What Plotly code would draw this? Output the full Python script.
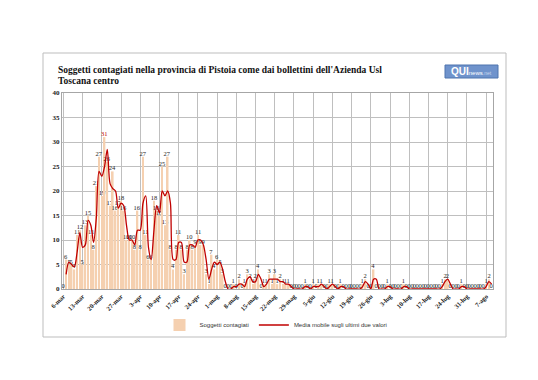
import pandas as pd
import plotly.graph_objects as go

start_date = "2020-03-06"

contagiati = [
    0, 6, 5, 5, 4, 11, 12, 5, 13, 15,
    11, 8, 21, 27, 19, 31, 26, 17, 24, 16,
    17, 18, 16, 10, 10, 10, 8, 16, 8, 27,
    11, 6, 6, 18, 16, 15, 25, 13, 27, 8,
    4, 8, 11, 8, 3, 8, 10, 8, 9, 11,
    9, 9, 3, 1, 7, 4, 6, 5, 3, 0,
    0, 0, 1, 0, 2, 0, 1, 3, 2, 1,
    2, 4, 0, 1, 1, 3, 1, 3, 1, 2,
    1, 1, 1, 0, 0, 0, 0, 0, 1, 0,
    0, 1, 0, 1, 1, 0, 0, 1, 1, 0,
    0, 1, 0, 0, 0, 0, 0, 0, 0, 1,
    2, 0, 0, 4, 0, 0, 0, 0, 1, 0,
    0, 0, 0, 0, 1, 0, 0, 0, 0, 0,
    0, 0, 0, 0, 0, 0, 0, 0, 1, 2,
    2, 0, 0, 0, 0, 1, 0, 0, 0, 0,
    0, 0, 0, 0, 1, 2, 0,
]

# moving average (last two values), from the second day on
media_mobile = [
    3, 5.5, 5, 4.5, 7.5, 11.5, 8.5, 9, 14, 13,
    9.5, 14.5, 24, 23, 25, 28.5, 21.5, 20.5, 20, 16.5,
    17.5, 17, 13, 10, 10, 9, 12, 12, 17.5, 19,
    8.5, 6, 12, 17, 15.5, 20, 19, 20, 17.5, 6,
    6, 9.5, 9.5, 5.5, 5.5, 9, 9, 8.5, 10, 10,
    9, 6, 2, 4, 5.5, 5, 5.5, 4, 1.5, 0,
    0, 0.5, 0.5, 1, 1, 0.5, 2, 2.5, 1.5, 1.5,
    3, 2, 0.5, 1, 2, 2, 2, 2, 1.5, 1.5,
    1, 1, 0.5, 0, 0, 0, 0, 0.5, 0.5, 0,
    0.5, 0.5, 0.5, 1, 0.5, 0, 0.5, 1, 0.5, 0,
    0.5, 0.5, 0, 0, 0, 0, 0, 0, 0.5, 1.5,
    1, 0, 2, 2, 0, 0, 0, 0.5, 0.5, 0,
    0, 0, 0, 0.5, 0.5, 0, 0, 0, 0, 0,
    0, 0, 0, 0, 0, 0, 0, 0.5, 1.5, 2,
    1, 0, 0, 0, 0.5, 0.5, 0, 0, 0, 0,
    0, 0, 0, 0.5, 1.5, 1,
]

tick_labels = [
    "6-mar", "13-mar", "20-mar", "27-mar", "3-apr", "10-apr", "17-apr",
    "24-apr", "1-mag", "8-mag", "15-mag", "22-mag", "29-mag", "5-giu",
    "12-giu", "19-giu", "26-giu", "3-lug", "10-lug", "17-lug", "24-lug",
    "31-lug", "7-ago",
]

title_lines = [
    "Soggetti contagiati nella provincia di Pistoia come dai bollettini dell'Azienda Usl",
    "Toscana centro",
]

dates = pd.date_range(start_date, periods=len(contagiati), freq="D")
tick_dates = list(dates[::7])[: len(tick_labels)]

# plot-area geometry in pixels
W_PX, H_PX = 538, 380
L, R, T, B = 54, 485, 85, 281


def px(x):
    return (x - L) / (R - L)


def py(y):
    return (B - y) / (B - T)


max_v = max(contagiati)
label_colors = ["#C00000" if v == max_v else "#262626" for v in contagiati]

fig = go.Figure()
fig.add_trace(go.Bar(
    x=dates, y=contagiati,
    name="Soggetti contagiati",
    marker=dict(color="#F5D0B0", line=dict(width=0)),
    text=[str(v) for v in contagiati],
    textposition="outside",
    constraintext="none",
    cliponaxis=False,
    textfont=dict(family="Liberation Serif", size=6.5, color=label_colors),
))
fig.add_trace(go.Scatter(
    x=dates[1:], y=media_mobile,
    name="Media mobile sugli ultimi due valori",
    mode="lines",
    line=dict(color="#C00000", width=1.3, shape="spline", smoothing=0.8),
))

x0 = dates[0] - pd.Timedelta(hours=12)
x1 = dates[-1] + pd.Timedelta(hours=12)

fig.update_layout(
    width=W_PX, height=H_PX,
    margin=dict(l=L, r=W_PX - R, t=T, b=H_PX - B, pad=0),
    paper_bgcolor="white", plot_bgcolor="white",
    bargap=0.42,
    showlegend=True,
    legend=dict(
        orientation="h", x=px(268), xanchor="center", y=py(317), yanchor="middle",
        font=dict(family="Liberation Sans", size=6, color="#333333"),
        itemwidth=30, bgcolor="rgba(0,0,0,0)",
    ),
    xaxis=dict(
        type="date", range=[x0, x1],
        tickmode="array", tickvals=tick_dates,
        ticktext=["<b>%s</b>" % t for t in tick_labels],
        tickangle=-45,
        tickfont=dict(family="Liberation Serif", size=6.5, color="#1a1a1a"),
        showgrid=True, gridcolor="#BFBFBF", gridwidth=1,
        showline=True, linecolor="#A6A6A6", linewidth=1, mirror=True,
        ticks="", zeroline=False,
    ),
    yaxis=dict(
        range=[0, 40], dtick=5,
        tickfont=dict(family="Liberation Serif", size=7, color="#1a1a1a", weight="bold"),
        showgrid=True, gridcolor="#BFBFBF", gridwidth=1,
        showline=True, linecolor="#A6A6A6", linewidth=1, mirror=True,
        ticks="", zeroline=False,
    ),
)

# outer chart frame
fig.add_shape(type="rect", xref="paper", yref="paper",
              x0=px(35), x1=px(498), y0=py(329), y1=py(45),
              line=dict(color="#BDBDBD", width=1), fillcolor="rgba(0,0,0,0)", layer="below")

# title
for i, line in enumerate(title_lines):
    fig.add_annotation(
        text="<b>%s</b>" % line, xref="paper", yref="paper",
        x=px(48), y=py(62 + i * 11), xanchor="left", yanchor="middle",
        showarrow=False,
        font=dict(family="Liberation Serif", size=9.5, color="#111111"),
    )

# logo
fig.add_shape(type="rect", xref="paper", yref="paper",
              x0=px(437), x1=px(490), y0=py(70), y1=py(57),
              line=dict(color="#4F74AE", width=1), fillcolor="#6F93CC")
fig.add_annotation(
    text="<b>QUI</b><span style='font-size:6px'>news</span><span style='font-size:5px;color:#C9D8EE'>.net</span>",
    xref="paper", yref="paper", x=px(463.5), y=py(63.5),
    xanchor="center", yanchor="middle", showarrow=False,
    font=dict(family="Liberation Sans", size=10, color="white"),
)

fig.write_html("out.html")
